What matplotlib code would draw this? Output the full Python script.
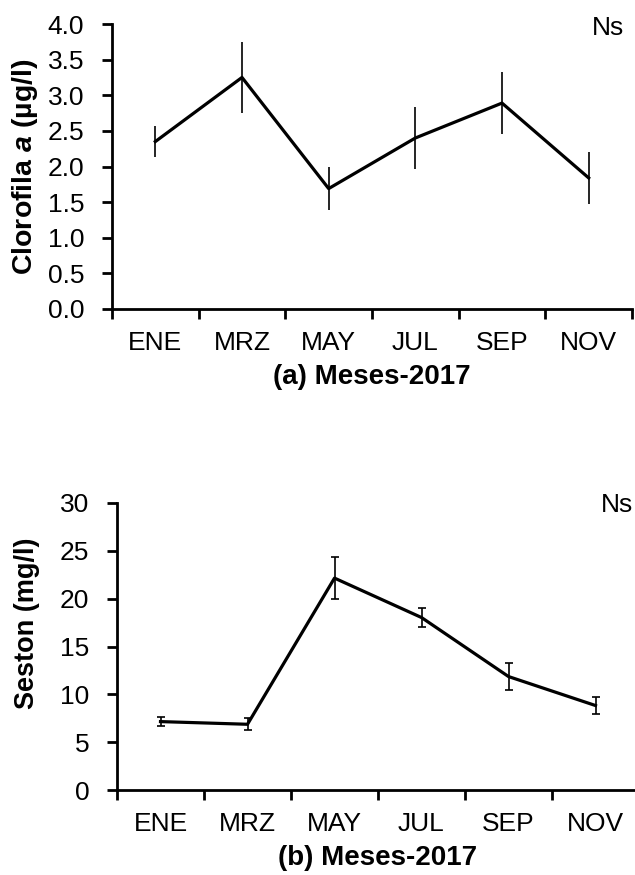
import matplotlib
matplotlib.use("Agg")
import matplotlib.pyplot as plt
import numpy as np

plt.rcParams['font.family'] = ['Liberation Sans', 'DejaVu Sans']
plt.rcParams['mathtext.fontset'] = 'custom'
plt.rcParams['mathtext.rm'] = 'Liberation Sans'
plt.rcParams['mathtext.it'] = 'Liberation Sans:italic'
plt.rcParams['mathtext.bf'] = 'Liberation Sans:bold'
plt.rcParams['mathtext.bfit'] = 'Liberation Sans:bold:italic'

# Months sampled in 2017
months = ["ENE", "MRZ", "MAY", "JUL", "SEP", "NOV"]

# (a) Chlorophyll a (µg/l): mean and error
chl_mean = [2.35, 3.25, 1.69, 2.40, 2.89, 1.84]
chl_err = [0.22, 0.50, 0.30, 0.43, 0.43, 0.36]

# (b) Seston (mg/l): mean and error
seston_mean = [7.15, 6.87, 22.15, 18.03, 11.86, 8.83]
seston_err = [0.43, 0.65, 2.20, 0.95, 1.40, 0.88]

chl_ticks = [0.0, 0.5, 1.0, 1.5, 2.0, 2.5, 3.0, 3.5, 4.0]
seston_ticks = [0, 5, 10, 15, 20, 25, 30]

TICK_FS = 19
W, H = 635, 875
fig = plt.figure(figsize=(W / 100, H / 100), dpi=100)


def px_axes(x0, x1, y_top, y_bottom):
    return fig.add_axes([x0 / W, 1 - y_bottom / H, (x1 - x0) / W, (y_bottom - y_top) / H])


def style(ax, yticks, yfmt):
    n = len(months)
    x = np.arange(n) + 0.5
    ax.set_xlim(0, n)
    ax.set_ylim(yticks[0], yticks[-1])
    for s in ("top", "right"):
        ax.spines[s].set_visible(False)
    for s in ("left", "bottom"):
        ax.spines[s].set_linewidth(2.0)
        ax.spines[s].set_color("black")
    ax.set_xticks(x)
    ax.set_xticklabels(months)
    ax.set_xticks(np.arange(n + 1), minor=True)
    ax.tick_params(axis="x", which="major", length=0, pad=16, labelsize=TICK_FS)
    ax.tick_params(axis="x", which="minor", length=7, width=2.0, direction="out")
    ax.set_yticks(yticks)
    ax.set_yticklabels([yfmt(v) for v in yticks])
    ax.tick_params(axis="y", length=7, width=2.0, direction="out", pad=13, labelsize=TICK_FS)
    return x


# Panel (a)
ax1 = px_axes(112, 632, 24, 309)
x1 = style(ax1, chl_ticks, lambda v: f"{v:.1f}")
ax1.errorbar(x1, chl_mean, yerr=chl_err, color="black", lw=2.3,
             elinewidth=1.2, capsize=0, clip_on=False)
ax1.set_ylabel(r"Clorofila $\mathbfit{a}$ (µg/l)", fontsize=20.5, fontweight="bold", va="center")
ax1.yaxis.set_label_coords((25 - 112) / 520, 0.5)
ax1.set_xlabel("(a) Meses-2017", fontsize=20, fontweight="bold", labelpad=6)
fig.text(608 / W, 1 - 28 / H, "Ns", fontsize=TICK_FS, ha="center", va="center")

# Panel (b)
ax2 = px_axes(117, 639, 503, 790)
x2 = style(ax2, seston_ticks, lambda v: f"{v:d}")
ax2.errorbar(x2, seston_mean, yerr=seston_err, color="black", lw=2.3,
             elinewidth=1.2, capsize=3, capthick=1.2, clip_on=False)
ax2.set_ylabel("Seston (mg/l)", fontsize=19.5, fontweight="bold", va="center")
ax2.yaxis.set_label_coords((27 - 117) / 522, (790 - 623) / 287)
ax2.set_xlabel("(b) Meses-2017", fontsize=20, fontweight="bold", labelpad=6)
fig.text(617 / W, 1 - 505 / H, "Ns", fontsize=TICK_FS, ha="center", va="center")

fig.savefig("out.png", dpi=100)
